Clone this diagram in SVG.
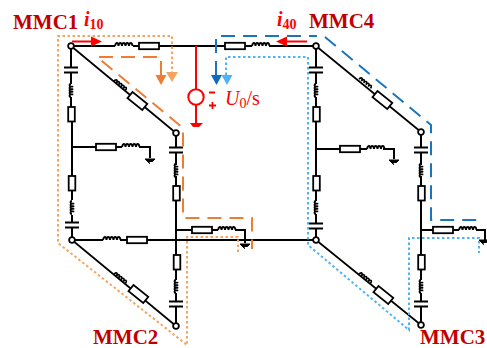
<svg xmlns="http://www.w3.org/2000/svg" width="487" height="348" viewBox="0 0 487 348">
<style>
.w{fill:none;stroke:#000;stroke-width:2}
.d{fill:none;stroke:#000;stroke-width:1.700}
.t{fill:#fff;stroke:#000;stroke-width:1.800}
.c{fill:none;stroke:#000;stroke-width:1.900}
.m{font:bold 21px "Liberation Serif",serif;fill:#c00000}
.r{font-family:"Liberation Serif",serif;fill:#f00}
.o1{fill:none;stroke:#ed7d31;stroke-width:2;stroke-dasharray:14 8}
.o2{fill:none;stroke:#f4a460;stroke-width:2;stroke-dasharray:2.500 2.500}
.b1{fill:none;stroke:#1b75bc;stroke-width:2;stroke-dasharray:14 8}
.b2{fill:none;stroke:#4db3f5;stroke-width:2;stroke-dasharray:2.500 2.500}
</style>
<defs>
<path id="L" class="c" d="M0 0c1-4 3-4 3.500 0c.4-4 3-4 3.500 0c.4-4 3-4 3.500 0c.4-4 3-4 3.500 0c.4-4 3-4 3.500 0"/>
<path id="V" class="c" d="M0 0c-2 0-2 2.600 0 2.600c2 0 2 0 0 0c-2 0-2 2.600 0 2.600c2 0 2 0 0 0c-2 0-2 2.600 0 2.600c2 0 2 0 0 0c-2 0-2 2.600 0 2.600c2 0 2 0 0 0c-2 0-2 2.600 0 2.600"/>
<rect id="R" class="t" x="0" y="-3.200" width="20" height="6.400"/>
<rect id="Q" class="t" x="0" y="-4" width="19" height="8"/>
<rect id="S" class="t" x="-3.300" y="0" width="6.600" height="14.500"/>
<path id="C" class="c" d="M-7-2.500H7M-7 2.500H7"/>
<path id="G" d="M-5 0H5L2.500 2.500H-2.500L0 4.500-2.500 2.500Z" fill="#000" stroke="#000"/>
<circle id="N" r="2.900" fill="#fff" stroke="#000" stroke-width="1.800"/>
</defs>
<g id="connectors">
<path class="w" d="M71 46H115M133 46H139M158 46H225M245 46H252M269 46H316"/>
<path class="w" d="M72 240H103M120 240H127M146 240H316"/>
<path class="w" d="M71 46V68M71 73V84M71 97V107M72 121V176M72 190V200M72 215V222M72 227V240"/>
<path class="w" d="M176 133V148M176 153V165M176 176V186M176 200V255M176 270V280M176 293V302M176 307V325"/>
<path class="w" d="M316 46V68M316 73V84M316 97V107M316 121V176M316 190V201M316 214V224M316 229V240"/>
<path class="w" d="M421 132V148M421 153V165M421 176V186M421 200V255M421 270V280M421 293V302M421 307V325"/>
<path class="d" d="M71 46L176 133M72 240L176 326M316 46L421 132M316 240L421 325"/>
<path class="w" d="M72 147H96M115 147H122M139 147H150V158"/>
<path class="w" d="M176 230H192M211 230H218M235 230H245V243"/>
<path class="w" d="M316 149H340M360 149H367M383 149H394V159"/>
<path class="w" d="M421 230H433M452 230H459M476 230H485V240"/>
</g>
<g id="MMC1">
<use href="#L" x="115" y="46"/><use href="#R" x="139" y="46"/>
<use href="#C" x="71" y="70"/><use href="#V" x="71" y="84"/><use href="#S" x="71.500" y="107"/>
<use href="#R" x="96" y="147"/><use href="#L" x="122" y="147"/><use href="#G" x="150" y="159"/>
<use href="#L" transform="translate(114 81) rotate(39) scale(.85)"/><use href="#Q" transform="translate(130 95) rotate(39)"/>
<use href="#N" x="71" y="46"/>
<use href="#C" x="176" y="150"/><use href="#V" x="176" y="164"/><use href="#S" x="176.500" y="186"/>
<use href="#N" x="176" y="133"/>
</g>
<g id="MMC2">
<use href="#L" x="103" y="240"/><use href="#R" x="127" y="240"/>
<use href="#S" x="72" y="176"/><use href="#V" x="72" y="201"/><use href="#C" x="72" y="225"/>
<use href="#R" x="192" y="230"/><use href="#L" x="218" y="230"/><use href="#G" x="245" y="244"/>
<use href="#L" transform="translate(114 274) rotate(39) scale(.85)"/><use href="#Q" transform="translate(131 288) rotate(39)"/>
<use href="#N" x="72" y="240"/>
<use href="#S" x="177" y="255"/><use href="#V" x="176" y="280"/><use href="#C" x="176" y="304"/>
<use href="#N" x="176" y="326"/>
</g>
<g id="MMC4">
<use href="#R" x="225" y="46"/><use href="#L" x="252" y="46"/>
<use href="#C" x="316" y="70"/><use href="#V" x="316" y="84"/><use href="#S" x="316.500" y="107"/>
<use href="#R" x="340" y="149"/><use href="#L" x="367" y="149"/><use href="#G" x="394" y="160"/>
<use href="#L" transform="translate(359 79) rotate(39) scale(.85)"/><use href="#Q" transform="translate(375 94) rotate(39)"/>
<use href="#N" x="316" y="46"/>
<use href="#C" x="421" y="150"/><use href="#V" x="421" y="164"/><use href="#S" x="421.500" y="186"/>
<use href="#N" x="421" y="132"/>
</g>
<g id="MMC3">
<use href="#S" x="316.500" y="176"/><use href="#V" x="316" y="201"/><use href="#C" x="316" y="226"/>
<use href="#R" x="433" y="230"/><use href="#L" x="459" y="230"/><use href="#G" x="484" y="240"/>
<use href="#L" transform="translate(359 274) rotate(39) scale(.85)"/><use href="#Q" transform="translate(376 289) rotate(39)"/>
<use href="#N" x="316" y="240"/>
<use href="#S" x="421.500" y="255"/><use href="#V" x="421" y="280"/><use href="#C" x="421" y="304"/>
<use href="#N" x="421" y="325"/>
</g>
<g id="source">
<path d="M196 46V89M196 105V123" fill="none" stroke="#f00" stroke-width="2"/>
<circle cx="196" cy="97" r="7.700" fill="none" stroke="#f00" stroke-width="2"/>
<path d="M190 123H203L199 127H193Z" fill="#f00"/>
<path d="M209 92.500H215M209 105.500H216M212.500 102V109" stroke="#f00" stroke-width="1.800" fill="none"/>
<text class="r" x="225" y="105" font-size="20"><tspan font-style="italic">U</tspan><tspan font-size="14" dy="3">0</tspan><tspan dy="-3">/s</tspan></text>
</g>
<g id="paths">
<path class="o2" d="M172 74V36H58V243L187 345V237H238V252"/>
<path d="M166 72H178L172 82Z" fill="#f4a460"/>
<path class="o1" d="M161 75V57H97L183 128V218H252V249"/>
<path d="M155.500 75H166.500L161 85Z" fill="#ed7d31"/>
<path class="b1" d="M216 75V36H317M325 37L431 125V220H481"/>
<path d="M211 75H222L216.500 85Z" fill="#0f6cbd"/>
<path class="b2" d="M226 75V57H308V245L409 330V238H479V253"/>
<path d="M221.500 75H232.500L227 85Z" fill="#4db3f5"/>
<path d="M72 41.500H92" stroke="#f00" stroke-width="2"/><path d="M91 36.500L102 41.500 91 46.500Z" fill="#f00"/>
<path d="M307 41.500H286" stroke="#f00" stroke-width="2"/><path d="M287 36.500L276 41.500 287 46.500Z" fill="#f00"/>
</g>
<g id="labels">
<text class="m" x="13" y="29">MMC1</text>
<text class="m" x="309" y="28">MMC4</text>
<text class="m" x="93" y="344">MMC2</text>
<text class="m" x="420" y="344">MMC3</text>
<text class="r" x="84" y="26" font-size="20" font-style="italic" font-weight="bold">i<tspan font-size="14" dy="3" font-style="normal">10</tspan></text>
<text class="r" x="277" y="26" font-size="20" font-style="italic" font-weight="bold">i<tspan font-size="14" dy="3" font-style="normal">40</tspan></text>
</g>
</svg>
